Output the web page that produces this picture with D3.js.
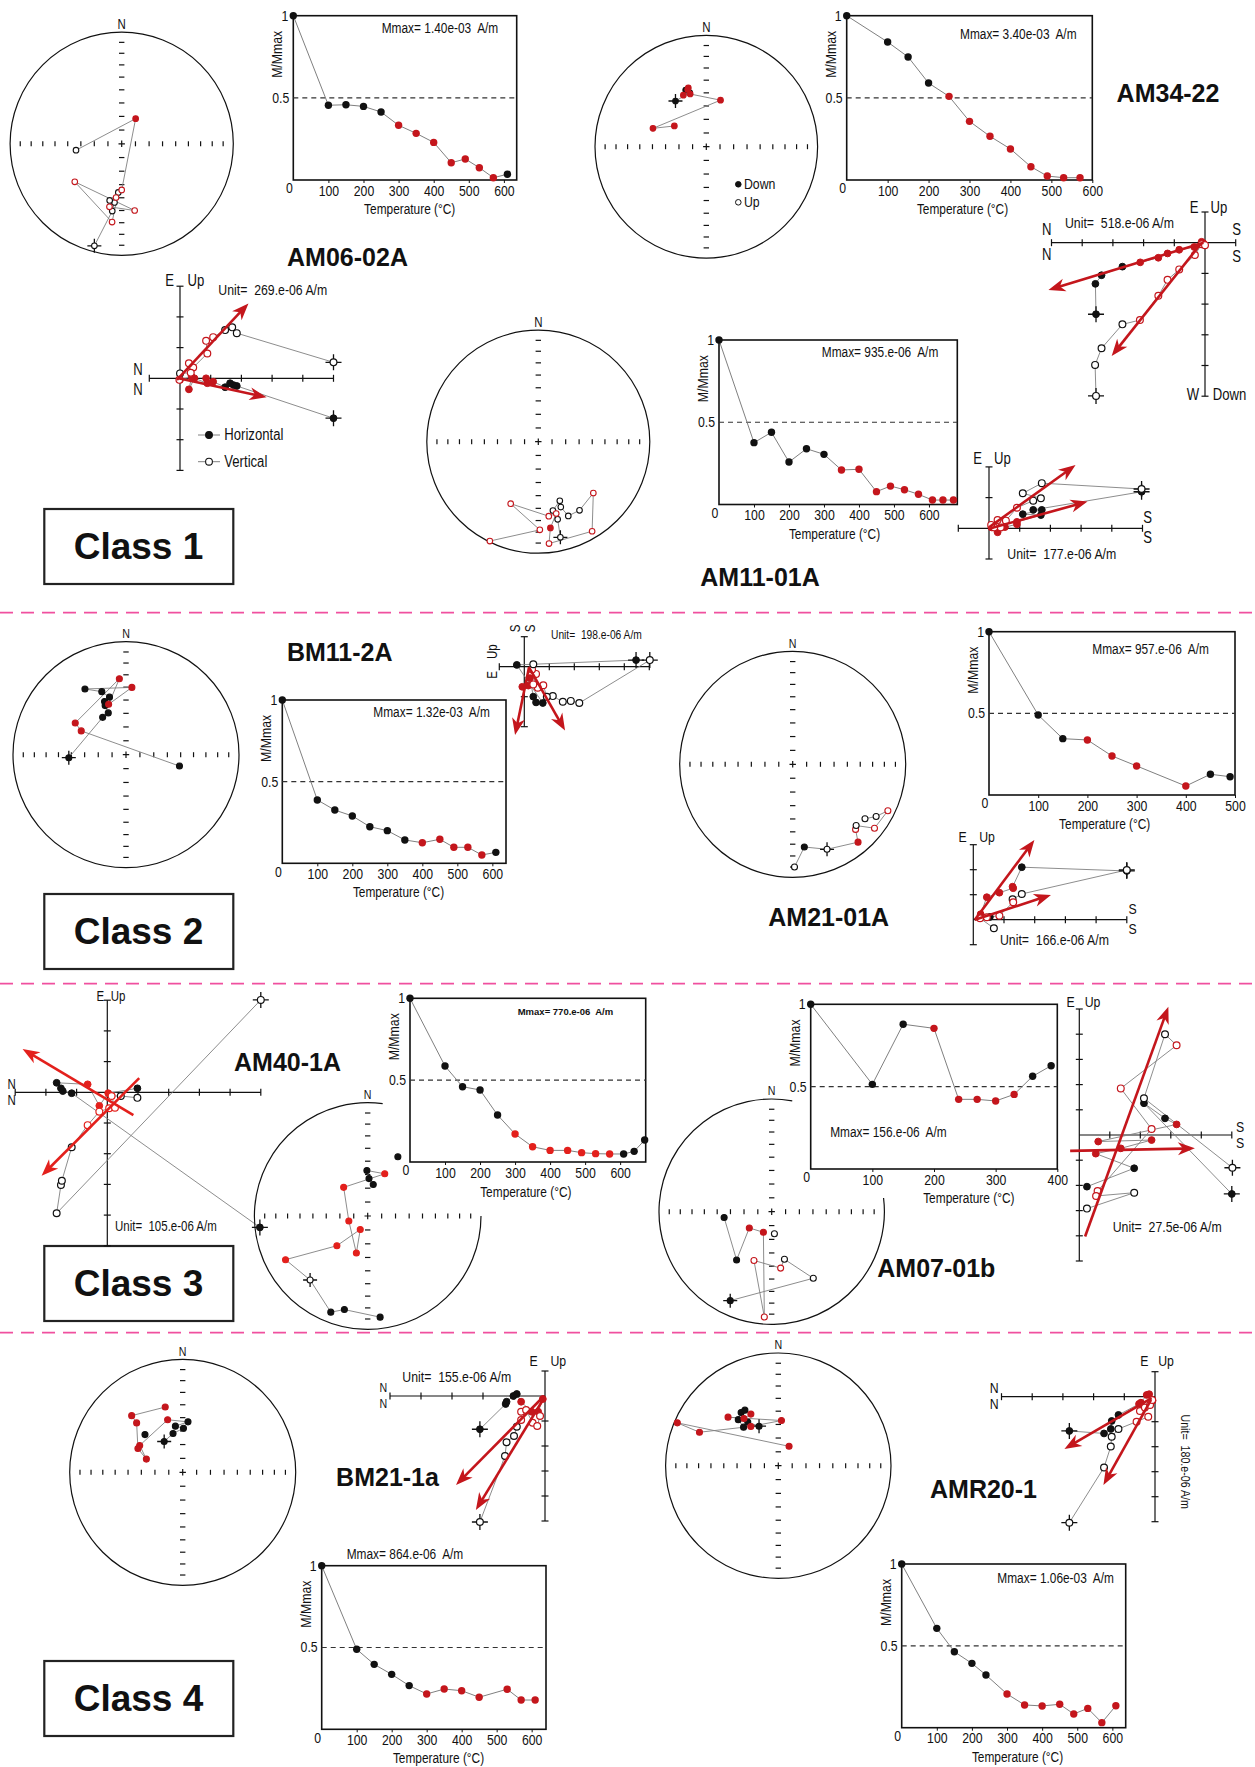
<!DOCTYPE html>
<html>
<head>
<meta charset="utf-8">
<script src="https://cdn.jsdelivr.net/npm/d3@7"></script>
<style>
  html, body { margin: 0; padding: 0; background: #fff; }
  svg { display: block; }
  text { white-space: pre; }
</style>
</head>
<body>
<script>
// ---------------------------------------------------------------------------
// Thermal demagnetisation: steps (°C), normalised intensity M/Mmax,
// and whether each step belongs to the characteristic (fitted) component.
// ---------------------------------------------------------------------------
const am0602aTemp = [0, 100, 150, 200, 250, 300, 350, 400, 450, 490, 530, 570, 610];
const am0602aM    = [1, 0.455, 0.458, 0.448, 0.414, 0.333, 0.284, 0.229, 0.105, 0.128, 0.075, 0.014, 0.035];
const am0602aFit  = [0, 0, 0, 0, 0, 1, 1, 1, 1, 1, 1, 1, 0];

const am3422Temp = [0, 100, 150, 200, 250, 300, 350, 400, 450, 490, 530, 570];
const am3422M    = [1, 0.84, 0.749, 0.59, 0.509, 0.357, 0.266, 0.189, 0.081, 0.024, 0.014, 0.014];
const am3422Fit  = [0, 0, 0, 0, 1, 1, 1, 1, 1, 1, 1, 1];

const am1101aTemp = [0, 100, 150, 200, 250, 300, 350, 400, 450, 490, 530, 570, 610, 640, 670];
const am1101aM    = [1, 0.376, 0.439, 0.258, 0.339, 0.305, 0.21, 0.214, 0.078, 0.112, 0.09, 0.062, 0.027, 0.027, 0.027];
const am1101aFit  = [0, 0, 0, 0, 0, 0, 1, 1, 1, 1, 1, 1, 1, 1, 1];

const bm112aTemp = [0, 100, 150, 200, 250, 300, 350, 400, 450, 490, 530, 570, 610];
const bm112aM    = [1, 0.388, 0.326, 0.29, 0.224, 0.2, 0.143, 0.126, 0.147, 0.098, 0.098, 0.051, 0.067];
const bm112aFit  = [0, 0, 0, 0, 0, 0, 0, 1, 1, 1, 1, 1, 0];

const am2101aTemp = [0, 100, 150, 200, 250, 300, 400, 450, 490];
const am2101aM    = [1, 0.49, 0.345, 0.337, 0.239, 0.178, 0.055, 0.127, 0.112];
const am2101aFit  = [0, 0, 0, 1, 1, 1, 1, 0, 0];

const am401aTemp = [0, 100, 150, 200, 250, 300, 350, 400, 450, 490, 530, 570, 610, 640, 670];
const am401aM    = [1, 0.586, 0.46, 0.44, 0.287, 0.171, 0.093, 0.071, 0.071, 0.057, 0.051, 0.049, 0.049, 0.065, 0.134];
const am401aFit  = [0, 0, 0, 0, 0, 1, 1, 1, 1, 1, 1, 1, 0, 0, 0];

const am0701bTemp = [0, 100, 150, 200, 240, 270, 300, 330, 360, 390];
const am0701bM    = [1, 0.514, 0.879, 0.854, 0.423, 0.423, 0.413, 0.453, 0.563, 0.627];
const am0701bFit  = [0, 0, 0, 1, 1, 1, 1, 1, 0, 0];

const bm211aTemp = [0, 100, 150, 200, 250, 300, 350, 400, 450, 530, 570, 610];
const bm211aM    = [1, 0.489, 0.397, 0.336, 0.267, 0.216, 0.246, 0.236, 0.196, 0.245, 0.179, 0.179];
const bm211aFit  = [0, 0, 0, 0, 0, 1, 1, 1, 1, 1, 1, 1];

const amr201Temp = [0, 100, 150, 200, 240, 300, 350, 400, 450, 490, 530, 570, 610];
const amr201M    = [1, 0.607, 0.464, 0.393, 0.322, 0.206, 0.139, 0.133, 0.143, 0.084, 0.118, 0.031, 0.134];
const amr201Fit  = [0, 0, 0, 0, 0, 1, 1, 1, 1, 1, 1, 1, 1];

// ---------------------------------------------------------------------------
// Directions per step: [declination, inclination, fitted, flag]
// flag 'x' = natural remanence (NRM) step, 's' = start of a separate trace
// ---------------------------------------------------------------------------
const am0602aDir = [[195,-6,0,'x'],[188,-39,0],[187,-46,0],[192,-47,0],[184,-54,0],
  [187,-30,1],[231,-45,1],[169,-39,1],[191,-42,1],[186,-50,1],[180,-56,1],[29,69,1],[262,-56,0]];
const am3422Dir = [[326,49,0,'x'],[343,48,0],[340,45,0],[343,44,1],[342,45,1],[336,48,1],
  [343,49,1],[17,54,1],[289,48,1],[303,62,1]];
const am1101aDir = [[167,-13,0,'x'],[166,-29,0],[168,-37,0],[160,-43,0],[161,-38,0],[158,-29,0],
  [149,-29,0],[133,-33,1],[149,-7,1],[174,-9,1],[172,23,1],[166,-34,1],[172,-33,1],[204,-39,1],
  [179,-22,1],[206,-1,1]];
const bm112aDir = [[267,48,0,'x'],[328,58,0],[337,57,0],[337,51,0],[338,48,0],[344,46,0],[339,40,0],
  [328,32,0],[5,40,1],[341,51,1],[355,33,1],[302,46,1],[298,53,1],[102,50,0]];
const am2101aDir = [[179,-10,0],[172,27,0],[158,-20,0,'x'],[140,11,1],[136,-21,1],[134,-23,0],
  [128,-9,1],[116,-7,1],[122,-14,0],[127,-21,0]];
const am401aDir = [[173,11,0],[194,16,0],[201,10,0],[222,-25,0,'x'],[242,19,1],[226,59,1],[209,79,1],
  [197,62,1],[255,76,1],[320,63,1],[22,57,1],[359,57,0],[2,63,0],[10,67,0],[27,41,0,'s']];
const am0701bDir = [[205,14,0,'x'],[148,-31,0],[165,-54,0],[171,-48,1],[200,-52,1],[184,-7,1],
  [202,74,1],[234,70,1],[216,46,0],[263,55,0],[173,-74,0,'s']];
const bm211aDir = [[329,64,0,'x'],[346,61,0],[1,58,0],[351,56,0],[6,53,0],[344,50,1],[302,53,1],
  [290,62,1],[298,53,1],[317,40,1],[318,33,1],[345,40,1],[315,51,0,'s']];
const amr201Dir = [[334,58,0,'x'],[325,51,0],[318,52,0],[319,45,0],[325,42,0],[329,42,0],[332,47,1],
  [324,47,1],[314,38,1],[4,57,1],[325,55,1],[293,25,1],[293,3,1],[29,74,1]];

// ---------------------------------------------------------------------------
// Orthogonal vector end-points in plot units: [horizontal axis, vertical axis, fitted, flag]
// Hor = horizontal-plane projection (solid), Ver = vertical-plane projection (open)
// Pca = principal-component fit directions [x1, y1, x2, y2]
// ---------------------------------------------------------------------------
const am0602aHor = [[5.0,-1.30,0,'x'],[1.85,-0.25,0],[1.74,-0.22,0],[1.63,-0.16,0],[1.47,-0.29,0],
  [1.08,-0.11,1],[0.85,0,1],[0.89,-0.16,1],[0.47,0,1],[0.29,-0.36,1],[0.38,0.05,1],[0,-0.05,1]];
const am0602aVer = [[5.0,0.52,0,'x'],[1.85,1.47,0],[1.70,1.66,0],[1.47,1.57,0],[1.08,1.34,1],
  [0.85,1.22,1],[0.89,0.81,1],[0.43,0.35,1],[0.29,0.49,1],[0.35,0.18,1],[0,0.16,0],[-0.02,-0.05,1]];
const am0602aPca = [[-0.1,-0.05,2.23,2.44],[-0.05,0,2.82,-0.62]];

const am3422Hor = [[-3.55,-2.33,0,'x'],[-3.57,-1.34,0],[-3.37,-1.06,0],[-2.69,-0.78,0],[-2.11,-0.64,1],
  [-1.52,-0.49,1],[-1.22,-0.35,1],[-0.84,-0.23,1],[-0.35,-0.14,1],[-0.11,0.03,1],[-0.05,-0.02,1]];
const am3422Ver = [[-3.55,-4.99,0,'x'],[-3.58,-3.98,0],[-3.37,-3.44,0],[-2.69,-2.66,0],[-2.12,-2.52,1],
  [-1.52,-1.73,1],[-1.22,-1.21,1],[-0.84,-0.87,1],[-0.33,-0.4,1],[-0.11,-0.05,1],[0.0,-0.08,1]];
const am3422Pca = [[-0.05,0,-5.1,-1.54],[-0.14,-0.04,-3.04,-3.69]];

const am1101aHor = [[4.97,1.19,0,'x'],[1.44,0.6,0],[1.72,0.6,0],[1.10,0.46,0],[1.69,0.43,0],
  [0.91,0.21,1],[0.91,0.13,1],[0.52,0.04,1],[0.28,-0.13,1],[0.08,0.03,1]];
const am1101aVer = [[4.97,1.28,0,'x'],[1.72,1.47,0],[1.10,1.14,0],[1.69,0.98,0],[1.44,0.90,0],
  [0.91,0.67,1],[0.55,0.25,1],[0.28,0.27,1],[0.38,0.03,1],[0.17,0.03,1],[0.07,0.11,1]];
const am1101aPca = [[0,0.03,2.82,2.06],[0.05,0,3.21,0.87]];

const bm112aHor = [[4.47,0.22,0,'x'],[-0.30,0.06,0],[0.74,-1.21,0],[0.47,-1.19,0],[0.36,-1.0,0],
  [0.23,-0.38,1],[0.16,-0.63,1],[-0.08,-0.67,1]];
const bm112aVer = [[5.02,0.22,0,'x'],[2.2,-1.21,0],[1.86,-1.14,0],[1.54,-1.17,0],[1.14,-0.98,0],
  [0.9,-1.0,0],[0.76,-0.62,1],[0.54,-0.70,1],[0.36,-0.59,1],[0.47,-0.24,1],[0.31,-0.09,1],[0.36,0.08,0]];
const bm112aPca = [[0.19,-0.02,-0.37,-2.28],[0.19,-0.02,1.63,-2.13]];

const am2101aHor = [[5.0,1.95,0,'x'],[1.58,2.10,0],[1.28,1.32,1],[1.30,1.26,1],[0.85,1.08,1],
  [0.44,0.90,1],[0.24,0.22,1],[0.54,0.11,0]];
const am2101aVer = [[5.0,1.99,0,'x'],[1.58,1.03,0],[1.28,0.82,0],[1.3,0.70,1],[0.85,0.16,1],
  [0.44,0.10,1],[0.22,0.06,1],[0.67,-0.34,0]];
const am2101aPca = [[0.05,0,1.99,3.19],[0.05,0,2.53,0.99]];

const am401aHor = [[4.97,-4.40,0,'x'],[-1.16,-0.03,0],[-1.45,0.04,0],[-1.51,0.13,0],[-1.65,0.31,0],
  [-0.64,0.26,1],[-0.26,-0.44,1],[0.03,-0.03,1],[0.98,0.13,0]];
const am401aVer = [[5.0,3.01,0,'x'],[-1.65,-3.94,0],[-1.51,-3.02,0],[-1.48,-2.88,0],[-1.16,-1.79,0],
  [-0.64,-1.07,1],[-0.26,-0.63,1],[0.06,-0.52,1],[0.25,-0.50,1],[0.14,-0.12,1],[0.44,-0.12,0],[0.98,-0.18,0]];
const am401aPca = [[0.85,-0.74,-2.76,1.41],[1.04,0.46,-2.14,-2.72]];

const am0701bHor = [[5.0,-2.34,0,'x'],[2.12,1.26,0],[2.81,0.66,0],[3.19,0.42,1],[0.62,-0.26,1],
  [2.37,-0.2,1],[1.36,-0.53,1],[0.54,-0.74,1],[1.80,-1.32,0],[0.25,-2.05,0]];
const am0701bVer = [[5.02,-1.30,0,'x'],[2.12,1.46,0],[2.81,4.0,0],[3.19,3.56,1],[1.36,1.85,1],
  [2.37,0.24,1],[0.60,-2.22,1],[0.55,-2.42,1],[1.80,-2.29,0],[0.25,-2.92,0]];
const am0701bPca = [[0.19,-4.03,2.92,5.09],[-0.30,-0.63,3.79,-0.53]];

const bm211aHor = [[-2.10,-1.33,0,'x'],[-1.27,-0.32,0],[-1.24,-0.23,0],[-1.02,0,0],[-0.91,0.08,0],
  [-0.77,-0.23,1],[-0.43,-0.63,1],[-0.22,-0.63,1],[-0.07,-0.12,1]];
const bm211aVer = [[-2.10,-5.04,0,'x'],[-1.29,-2.4,0],[-1.24,-1.85,0],[-1.0,-1.6,0],[-0.91,-1.23,0],
  [-0.77,-0.96,1],[-0.77,-0.63,1],[-0.61,-0.56,1],[-0.40,-1.07,1],[-0.25,-1.2,1],[-0.16,-0.8,1]];
const bm211aPca = [[-0.03,0,-2.87,-3.56],[-0.07,-0.16,-2.23,-4.56]];

const amr201Hor = [[-2.79,-1.37,0,'x'],[-1.66,-1.47,0],[-1.44,-1.29,0],[-1.41,-0.97,0],[-1.19,-0.73,0],
  [-0.52,-0.29,1],[-0.46,-0.24,1],[-0.27,0.07,1],[-0.19,0.1,1],[-0.08,-0.16,1]];
const amr201Ver = [[-2.79,-5.04,0,'x'],[-1.66,-2.83,0],[-1.44,-1.99,0],[-1.41,-1.6,0],[-1.19,-1.29,0],
  [-0.6,-1.0,1],[-0.22,-0.8,1],[-0.49,-0.57,1],[-0.33,-0.43,1],[-0.16,-0.33,1],[-0.09,-0.13,1]];
const amr201Pca = [[-0.11,-0.06,-2.95,-2.09],[-0.13,-0.13,-1.68,-3.53]];

const inclinationTicks = [10, 20, 30, 40, 50, 60, 70, 80];
const classNames = ['Class 1', 'Class 2', 'Class 3', 'Class 4'];

// ---------------------------------------------------------------------------
const RAD = Math.PI / 180;
const SANS = "'Liberation Sans',Arial,Helvetica,sans-serif";
const CONDENSE = 0.82;           // horizontal squeeze giving a narrow sans face
const INK = '#111';
const GREY = '#808080';
const RED = '#c4161c';
const RED_BRIGHT = '#e3201c';
const PINK = '#f0509f';

const svg = d3.select('body').append('svg')
  .attr('width', 1255).attr('height', 1767).attr('viewBox', '0 0 1255 1767');

function label(g, x, y, s, o = {}) {
  const squeeze = o.wide ? 1 : CONDENSE;
  return g.append('text')
    .attr('font-family', SANS)
    .attr('font-size', o.size || 15)
    .attr('font-weight', o.weight || 'normal')
    .attr('text-anchor', o.anchor || 'middle')
    .attr('dominant-baseline', 'central')
    .attr('fill', INK)
    .attr('transform', `translate(${x},${y})${o.rotate ? ` rotate(${o.rotate})` : ''} scale(${squeeze},1)`)
    .text(s);
}

// Lambert equal-area (Schmidt) projection onto the unit circle: [east, north]
function equalArea(dec, inc) {
  const r = Math.sqrt(1 - Math.sin(Math.abs(inc) * RAD));
  return [r * Math.sin(dec * RAD), r * Math.cos(dec * RAD)];
}

function crossMark(g, cx, cy, h) {
  g.append('path')
    .attr('d', `M${cx - h},${cy}H${cx + h}M${cx},${cy - h}V${cy + h}`)
    .attr('stroke', INK).attr('stroke-width', 1.3).attr('fill', 'none');
}

function arrow(g, x1, y1, x2, y2, color) {
  const ang = Math.atan2(y2 - y1, x2 - x1);
  const L = 17, hw = 6.5, notch = 5;
  const sx = x2 - Math.cos(ang) * (L - notch - 1);
  const sy = y2 - Math.sin(ang) * (L - notch - 1);
  g.append('line').attr('x1', x1).attr('y1', y1).attr('x2', sx).attr('y2', sy)
    .attr('stroke', color).attr('stroke-width', 2.6);
  g.append('path')
    .attr('d', `M0,0L${-L},${-hw}L${-L + notch},0L${-L},${hw}Z`)
    .attr('transform', `translate(${x2},${y2}) rotate(${ang / RAD})`)
    .attr('fill', color);
}

// ---- equal-area stereonet -------------------------------------------------
function stereonet(p) {
  const g = svg.append('g');
  const red = p.red || RED;
  const x = d3.scaleLinear().domain([-1, 1]).range([p.cx - p.r, p.cx + p.r]);
  const y = d3.scaleLinear().domain([-1, 1]).range([p.cy + p.r, p.cy - p.r]);

  const rim = d3.path();
  if (p.gap) rim.arc(x(0), y(0), p.r, (p.gap[1] - 90) * RAD, (p.gap[0] + 270) * RAD);
  else rim.arc(x(0), y(0), p.r, 0, 2 * Math.PI);
  g.append('path').attr('d', rim.toString()).attr('fill', 'none')
    .attr('stroke', INK).attr('stroke-width', 1.2);

  const tk = g.append('g').attr('stroke', INK).attr('stroke-width', 1.2);
  inclinationTicks.forEach(inc => {
    const r = equalArea(0, inc)[1];
    [-r, r].forEach(v => {
      tk.append('line').attr('x1', x(0) - 2.7).attr('x2', x(0) + 2.7).attr('y1', y(v)).attr('y2', y(v));
      tk.append('line').attr('x1', x(v)).attr('x2', x(v)).attr('y1', y(0) - 2.5).attr('y2', y(0) + 2.5);
    });
  });
  tk.append('path').attr('d', `M${x(0) - 3.2},${y(0)}H${x(0) + 3.2}M${x(0)},${y(0) - 3.2}V${y(0) + 3.2}`);
  label(g, x(0), y(1) - 8, 'N', { size: p.nSize || 13 });

  const pts = p.data.map(d => {
    const [e, n] = equalArea(d[0], d[1]);
    return { x: x(e), y: y(n), down: d[1] >= 0, fit: d[2], flag: d[3] };
  });
  const traces = [];
  let cur = [];
  pts.forEach(q => { if (q.flag === 's' && cur.length) { traces.push(cur); cur = []; } cur.push(q); });
  traces.push(cur);
  const ln = d3.line().x(q => q.x).y(q => q.y);
  traces.forEach(t => g.append('path').attr('d', ln(t)).attr('fill', 'none')
    .attr('stroke', GREY).attr('stroke-width', 0.9));
  pts.filter(q => q.flag === 'x').forEach(q => crossMark(g, q.x, q.y, 7));
  g.selectAll('circle.dir').data(pts).join('circle')
    .attr('cx', q => q.x).attr('cy', q => q.y).attr('r', p.dot || 2.8)
    .attr('fill', q => q.down ? (q.fit ? red : INK) : '#fff')
    .attr('stroke', q => q.fit ? red : INK).attr('stroke-width', 1.1);
  return g;
}

// ---- demagnetisation curve ------------------------------------------------
function demag(p) {
  const g = svg.append('g');
  const red = p.red || RED;
  const x = d3.scaleLinear().domain([0, p.tMax]).range([p.x0, p.x1]);
  const y = d3.scaleLinear().domain([0, 1]).range([p.y1, p.y0]);
  g.append('rect').attr('x', p.x0).attr('y', p.y0)
    .attr('width', p.x1 - p.x0).attr('height', p.y1 - p.y0)
    .attr('fill', '#fff').attr('stroke', INK).attr('stroke-width', 1.6);
  g.append('line').attr('x1', p.x0).attr('x2', p.x1).attr('y1', y(0.5)).attr('y2', y(0.5))
    .attr('stroke', '#333').attr('stroke-width', 1.1).attr('stroke-dasharray', '5,4');

  const ax = g.append('g').attr('transform', `translate(0,${p.y1})`)
    .call(d3.axisBottom(x).tickValues(p.ticks).tickSize(3).tickPadding(2).tickFormat(d3.format('d')));
  ax.select('.domain').remove();
  ax.selectAll('line').attr('stroke', INK);
  ax.selectAll('text').attr('font-family', SANS).attr('font-size', 15).attr('fill', INK)
    .attr('transform', `scale(${CONDENSE},1)`);

  label(g, p.x0 - 4, p.y1 + 8.5, '0');
  label(g, p.x0 - 5, y(1), '1', { anchor: 'end' });
  label(g, p.x0 - 4, y(0.5), '0.5', { anchor: 'end' });
  label(g, p.x0 - 16, y(0.765), 'M/Mmax', { rotate: -90 });
  label(g, p.tx, p.ty, 'Temperature (°C)', { size: 14.5 });

  const idx = d3.range(p.temps.length);
  g.append('path')
    .attr('d', d3.line().x(i => x(p.temps[i])).y(i => y(p.m[i]))(idx))
    .attr('fill', 'none').attr('stroke', GREY).attr('stroke-width', 1);
  g.selectAll('circle.step').data(idx).join('circle')
    .attr('cx', i => x(p.temps[i])).attr('cy', i => y(p.m[i])).attr('r', 3.7)
    .attr('fill', i => p.fit[i] ? red : INK);

  const mm = p.mmax;
  label(g, mm.x, mm.y, mm.text, {
    anchor: mm.anchor || 'start', size: mm.size || 14.5,
    wide: !!mm.bold, weight: mm.bold ? 'bold' : 'normal'
  });
  return g;
}

// ---- orthogonal vector (Zijderveld) diagram -------------------------------
function zijderveld(p) {
  const g = svg.append('g');
  const red = p.red || RED;
  const x = d3.scaleLinear().domain([0, 1]).range([p.ox, p.ox + p.sx]);
  const y = d3.scaleLinear().domain([0, 1]).range([p.oy, p.oy - p.sy]);

  const ax = g.append('g').attr('stroke', INK).attr('stroke-width', 1.2);
  ax.append('line').attr('x1', x(p.xr[0])).attr('x2', x(p.xr[1])).attr('y1', y(0)).attr('y2', y(0));
  ax.append('line').attr('x1', x(0)).attr('x2', x(0)).attr('y1', y(p.yr[0])).attr('y2', y(p.yr[1]));
  d3.range(p.xr[0], p.xr[1] + 1).filter(i => i !== 0).forEach(i =>
    ax.append('line').attr('x1', x(i)).attr('x2', x(i)).attr('y1', y(0) - 3.5).attr('y2', y(0) + 3.5));
  d3.range(p.yr[0], p.yr[1] + 1).filter(i => i !== 0).forEach(i =>
    ax.append('line').attr('y1', y(i)).attr('y2', y(i)).attr('x1', x(0) - 3.5).attr('x2', x(0) + 3.5));

  const ln = d3.line().x(d => x(d[0])).y(d => y(d[1]));
  [p.hor, p.ver].forEach(a => g.append('path').attr('d', ln(a))
    .attr('fill', 'none').attr('stroke', GREY).attr('stroke-width', 0.9));
  [...p.hor, ...p.ver].filter(d => d[3] === 'x').forEach(d => crossMark(g, x(d[0]), y(d[1]), 8));

  g.selectAll('circle.hor').data(p.hor).join('circle')
    .attr('cx', d => x(d[0])).attr('cy', d => y(d[1])).attr('r', 3.4)
    .attr('fill', d => d[2] ? red : INK).attr('stroke', d => d[2] ? red : INK).attr('stroke-width', 1);
  g.selectAll('circle.ver').data(p.ver).join('circle')
    .attr('cx', d => x(d[0])).attr('cy', d => y(d[1])).attr('r', 3.4)
    .attr('fill', '#fff').attr('stroke', d => d[2] ? red : INK).attr('stroke-width', 1.2);

  p.pca.forEach(f => arrow(g, x(f[0]), y(f[1]), x(f[2]), y(f[3]), red));

  p.labels.forEach(l => label(g, l.x, l.y, l.t, {
    size: l.size || p.fs, anchor: l.anchor || 'middle', rotate: l.rotate
  }));
  return g;
}

// ---------------------------------------------------------------------------
// Background furniture: section separators and class boxes
// ---------------------------------------------------------------------------
[612.7, 983.7, 1332.7].forEach(yy =>
  svg.append('line').attr('x1', 0).attr('x2', 1255).attr('y1', yy).attr('y2', yy)
    .attr('stroke', PINK).attr('stroke-width', 1.7).attr('stroke-dasharray', '13,8'));

const classBoxTop = [509, 894, 1246, 1661];
classNames.forEach((name, i) => {
  svg.append('rect').attr('x', 44.3).attr('y', classBoxTop[i]).attr('width', 189).attr('height', 75)
    .attr('fill', '#fff').attr('stroke', '#222').attr('stroke-width', 2.2);
  label(svg, 138.5, classBoxTop[i] + 37.5, name, { weight: 'bold', size: 37, wide: true });
});

function title(x, y, s) { label(svg, x, y, s, { weight: 'bold', size: 25, wide: true }); }

// ---------------------------------------------------------------------------
// Class 1
// ---------------------------------------------------------------------------
stereonet({ data: am0602aDir, cx: 121.7, cy: 143.8, r: 111.6, nSize: 14 });
demag({ temps: am0602aTemp, m: am0602aM, fit: am0602aFit, tMax: 636.5, ticks: [100, 200, 300, 400, 500, 600],
  x0: 293.3, x1: 516.7, y0: 15.7, y1: 180, tx: 409.7, ty: 209.3,
  mmax: { text: 'Mmax= 1.40e-03  A/m', x: 381.7, y: 28.3 } });
title(347.5, 257.3, 'AM06-02A');
const zA = zijderveld({ hor: am0602aHor, ver: am0602aVer, pca: am0602aPca,
  ox: 180, oy: 378.3, sx: 30.7, sy: 30.7, xr: [-1, 5], yr: [-3, 3], fs: 16,
  labels: [
    { t: 'N', x: 138, y: 370 }, { t: 'N', x: 138, y: 390 },
    { t: 'E', x: 169.5, y: 281 }, { t: 'Up', x: 196, y: 281 },
    { t: 'Unit=  269.e-06 A/m', x: 218.3, y: 290, anchor: 'start', size: 15 }
  ] });
// legend for the projection symbols
[['Horizontal', 435, true], ['Vertical', 461.7, false]].forEach(([t, yy, solid]) => {
  zA.append('line').attr('x1', 198).attr('x2', 220).attr('y1', yy).attr('y2', yy)
    .attr('stroke', GREY).attr('stroke-width', 1);
  zA.append('circle').attr('cx', 209).attr('cy', yy).attr('r', 3.4)
    .attr('fill', solid ? INK : '#fff').attr('stroke', INK).attr('stroke-width', 1.1);
  label(zA, 224.3, yy, t, { anchor: 'start', size: 16 });
});

const sB = stereonet({ data: am3422Dir, cx: 706.3, cy: 146.7, r: 111.3, nSize: 14 });
[['Down', 184.3, true], ['Up', 202.3, false]].forEach(([t, yy, solid]) => {
  sB.append('circle').attr('cx', 738.3).attr('cy', yy).attr('r', 2.8)
    .attr('fill', solid ? INK : '#fff').attr('stroke', INK).attr('stroke-width', 1);
  label(sB, 744, yy, t, { anchor: 'start', size: 15 });
});
demag({ temps: am3422Temp, m: am3422M, fit: am3422Fit, tMax: 600, ticks: [100, 200, 300, 400, 500, 600],
  x0: 846.7, x1: 1092.3, y0: 15.7, y1: 180, tx: 962.5, ty: 209.3,
  mmax: { text: 'Mmax= 3.40e-03  A/m', x: 960, y: 34 } });
title(1168, 93.3, 'AM34-22');
zijderveld({ hor: am3422Hor, ver: am3422Ver, pca: am3422Pca,
  ox: 1205, oy: 242.7, sx: 30.7, sy: 30.7, xr: [-5, 1], yr: [-5, 1], fs: 16,
  labels: [
    { t: 'N', x: 1046.7, y: 229.3 }, { t: 'N', x: 1046.7, y: 255 },
    { t: 'S', x: 1236.7, y: 229.3 }, { t: 'S', x: 1236.7, y: 256.7 },
    { t: 'E', x: 1194, y: 207.7 }, { t: 'Up', x: 1219, y: 207.7 },
    { t: 'W', x: 1193, y: 395 }, { t: 'Down', x: 1229.5, y: 395 },
    { t: 'Unit=  518.e-06 A/m', x: 1065, y: 223.3, anchor: 'start', size: 15 }
  ] });

stereonet({ data: am1101aDir, cx: 538.3, cy: 441.7, r: 111.5, nSize: 14 });
demag({ temps: am1101aTemp, m: am1101aM, fit: am1101aFit, tMax: 681, ticks: [100, 200, 300, 400, 500, 600],
  x0: 719, x1: 957.3, y0: 340, y1: 504.5, tx: 834.5, ty: 534.3,
  mmax: { text: 'Mmax= 935.e-06  A/m', x: 938.3, y: 351.7, anchor: 'end' } });
title(760, 576.7, 'AM11-01A');
zijderveld({ hor: am1101aHor, ver: am1101aVer, pca: am1101aPca,
  ox: 989, oy: 528.3, sx: 30.7, sy: 30.7, xr: [-1, 5], yr: [-1, 2], fs: 16,
  labels: [
    { t: 'E', x: 977.7, y: 459 }, { t: 'Up', x: 1002.5, y: 459 },
    { t: 'S', x: 1147.7, y: 517.3 }, { t: 'S', x: 1147.7, y: 537.3 },
    { t: 'Unit=  177.e-06 A/m', x: 1007.3, y: 554, anchor: 'start', size: 15 }
  ] });

// ---------------------------------------------------------------------------
// Class 2
// ---------------------------------------------------------------------------
stereonet({ data: bm112aDir, cx: 126, cy: 754.7, r: 113, dot: 3 });
title(339.7, 651.7, 'BM11-2A');
demag({ temps: bm112aTemp, m: bm112aM, fit: bm112aFit, tMax: 639, ticks: [100, 200, 300, 400, 500, 600],
  x0: 282.3, x1: 506, y0: 700, y1: 863.3, tx: 398.5, ty: 892.3,
  mmax: { text: 'Mmax= 1.32e-03  A/m', x: 373.3, y: 711.7 } });
zijderveld({ hor: bm112aHor, ver: bm112aVer, pca: bm112aPca,
  ox: 524.3, oy: 666.7, sx: 25, sy: 30, xr: [-1, 5], yr: [-2, 1], fs: 14,
  labels: [
    { t: 'S', x: 515, y: 628.3, rotate: -90 }, { t: 'S', x: 530, y: 628.3, rotate: -90 },
    { t: 'E', x: 491.7, y: 675, rotate: -90 }, { t: 'Up', x: 491.7, y: 651.7, rotate: -90 },
    { t: 'Unit=  198.e-06 A/m', x: 551, y: 635, anchor: 'start', size: 12.5 }
  ] });

stereonet({ data: am2101aDir, cx: 792.7, cy: 764.3, r: 113, dot: 3 });
demag({ temps: am2101aTemp, m: am2101aM, fit: am2101aFit, tMax: 500, ticks: [100, 200, 300, 400, 500],
  x0: 989, x1: 1235, y0: 631.7, y1: 795, tx: 1104.7, ty: 824,
  mmax: { text: 'Mmax= 957.e-06  A/m', x: 1092.3, y: 649.3 } });
title(828.7, 916.7, 'AM21-01A');
zijderveld({ hor: am2101aHor, ver: am2101aVer, pca: am2101aPca,
  ox: 973.3, oy: 919.7, sx: 30.7, sy: 25, xr: [0, 5], yr: [-1, 3], fs: 15,
  labels: [
    { t: 'E', x: 962.7, y: 836.7 }, { t: 'Up', x: 987, y: 836.7 },
    { t: 'S', x: 1132.7, y: 909 }, { t: 'S', x: 1132.7, y: 929.3 },
    { t: 'Unit=  166.e-06 A/m', x: 1000, y: 940, anchor: 'start', size: 15 }
  ] });

// ---------------------------------------------------------------------------
// Class 3
// ---------------------------------------------------------------------------
zijderveld({ hor: am401aHor, ver: am401aVer, pca: am401aPca, red: RED_BRIGHT,
  ox: 107.3, oy: 1092.3, sx: 30.7, sy: 30.7, xr: [-3, 5], yr: [-5, 3], fs: 14,
  labels: [
    { t: 'E', x: 100.3, y: 996 }, { t: 'Up', x: 118, y: 996 },
    { t: 'N', x: 11.7, y: 1084.3 }, { t: 'N', x: 11.7, y: 1100 },
    { t: 'Unit=  105.e-06 A/m', x: 115, y: 1226, anchor: 'start', size: 14 }
  ] });
title(287.5, 1061.7, 'AM40-1A');
demag({ temps: am401aTemp, m: am401aM, fit: am401aFit, tMax: 673, ticks: [100, 200, 300, 400, 500, 600],
  red: RED_BRIGHT, x0: 410, x1: 645.7, y0: 998.3, y1: 1162, tx: 525.8, ty: 1191.7,
  mmax: { text: 'Mmax= 770.e-06  A/m', x: 517.7, y: 1011.7, bold: true, size: 9.5 } });
stereonet({ data: am401aDir, cx: 367.7, cy: 1216, r: 113.3, gap: [7.6, 90], red: RED_BRIGHT, dot: 3 });

demag({ temps: am0701bTemp, m: am0701bM, fit: am0701bFit, tMax: 400, ticks: [100, 200, 300, 400],
  x0: 810.7, x1: 1057.3, y0: 1004.3, y1: 1169, tx: 968.8, ty: 1198.3,
  mmax: { text: 'Mmax= 156.e-06  A/m', x: 946.7, y: 1132.3, anchor: 'end' } });
stereonet({ data: am0701bDir, cx: 771.7, cy: 1211.7, r: 112.7, gap: [10.5, 83], dot: 3 });
title(936.3, 1267.7, 'AM07-01b');
zijderveld({ hor: am0701bHor, ver: am0701bVer, pca: am0701bPca,
  ox: 1079.3, oy: 1135, sx: 30.5, sy: 25.2, xr: [0, 5], yr: [-5, 5], fs: 15,
  labels: [
    { t: 'E', x: 1070.5, y: 1002.3 }, { t: 'Up', x: 1092.5, y: 1002.3 },
    { t: 'S', x: 1240, y: 1127 }, { t: 'S', x: 1240, y: 1142.7 },
    { t: 'Unit=  27.5e-06 A/m', x: 1112.7, y: 1227.3, anchor: 'start', size: 15 }
  ] });

// ---------------------------------------------------------------------------
// Class 4
// ---------------------------------------------------------------------------
stereonet({ data: bm211aDir, cx: 182.7, cy: 1472.3, r: 113, dot: 3 });
zijderveld({ hor: bm211aHor, ver: bm211aVer, pca: bm211aPca,
  ox: 545, oy: 1396, sx: 31, sy: 25, xr: [-5, 0], yr: [-5, 1], fs: 15,
  labels: [
    { t: 'N', x: 383.3, y: 1388, size: 13 }, { t: 'N', x: 383.3, y: 1403.5, size: 13 },
    { t: 'E', x: 533.7, y: 1360.7 }, { t: 'Up', x: 558.3, y: 1360.7 },
    { t: 'Unit=  155.e-06 A/m', x: 402.3, y: 1377.3, anchor: 'start', size: 15 }
  ] });
title(387.5, 1476.7, 'BM21-1a');
demag({ temps: bm211aTemp, m: bm211aM, fit: bm211aFit, tMax: 641, ticks: [100, 200, 300, 400, 500, 600],
  x0: 321.7, x1: 546, y0: 1565.7, y1: 1729.3, tx: 438.5, ty: 1758.3,
  mmax: { text: 'Mmax= 864.e-06  A/m', x: 346.7, y: 1554 } });

stereonet({ data: amr201Dir, cx: 778.3, cy: 1465.7, r: 112.7, dot: 3 });
zijderveld({ hor: amr201Hor, ver: amr201Ver, pca: amr201Pca,
  ox: 1155, oy: 1396.7, sx: 30.7, sy: 25, xr: [-5, 0], yr: [-5, 1], fs: 15,
  labels: [
    { t: 'N', x: 994.3, y: 1388.3 }, { t: 'N', x: 994.3, y: 1404 },
    { t: 'E', x: 1144.3, y: 1360.7 }, { t: 'Up', x: 1166, y: 1360.7 },
    { t: 'Unit=  180.e-06 A/m', x: 1185, y: 1461.7, rotate: 90, size: 13 }
  ] });
title(983.5, 1489, 'AMR20-1');
demag({ temps: amr201Temp, m: amr201M, fit: amr201Fit, tMax: 638, ticks: [100, 200, 300, 400, 500, 600],
  x0: 901.7, x1: 1125.7, y0: 1564, y1: 1727.7, tx: 1017.5, ty: 1756.7,
  mmax: { text: 'Mmax= 1.06e-03  A/m', x: 997.3, y: 1578.3 } });
</script>
</body>
</html>
